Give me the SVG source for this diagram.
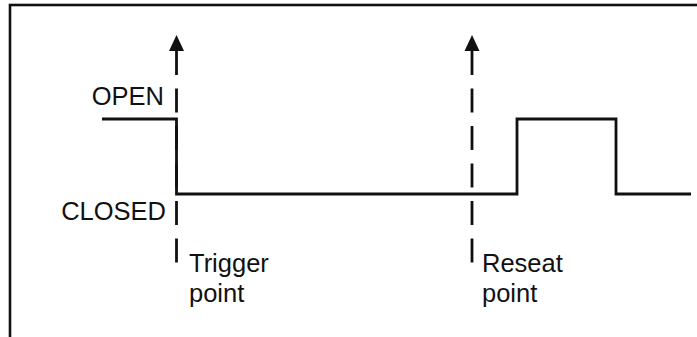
<svg xmlns="http://www.w3.org/2000/svg" width="697" height="337" viewBox="0 0 697 337">
<style>
.frame{fill:none;stroke:#111;stroke-width:2.6}
.sig{fill:none;stroke:#111;stroke-width:2.8;stroke-linejoin:miter}
.dash{fill:none;stroke:#111;stroke-width:2.8;stroke-dasharray:24 13.5}
.lbl{font-family:"Liberation Sans",Arial,sans-serif;font-size:25.5px;fill:#111}
</style>
<rect class="frame" x="10" y="5" width="700" height="340"/>
<g id="connectors">
<path class="sig" d="M102,119 H176.5 V194 H517 V119 H616 V194 H691"/>
</g>
<g id="trigger">
<line class="dash" x1="176.5" y1="51" x2="176.5" y2="263"/>
<path d="M176.5,35 L184,51 L169,51 Z" fill="#111"/>
<text class="lbl" x="189" y="272">Trigger</text>
<text class="lbl" x="189" y="302">point</text>
</g>
<g id="reseat">
<line class="dash" x1="472" y1="51" x2="472" y2="263"/>
<path d="M472,35 L479.5,51 L464.5,51 Z" fill="#111"/>
<text class="lbl" x="482" y="272">Reseat</text>
<text class="lbl" x="482" y="302">point</text>
</g>
<g id="levels">
<text class="lbl" x="164" y="105" text-anchor="end">OPEN</text>
<text class="lbl" x="166" y="220" text-anchor="end">CLOSED</text>
</g>
</svg>
